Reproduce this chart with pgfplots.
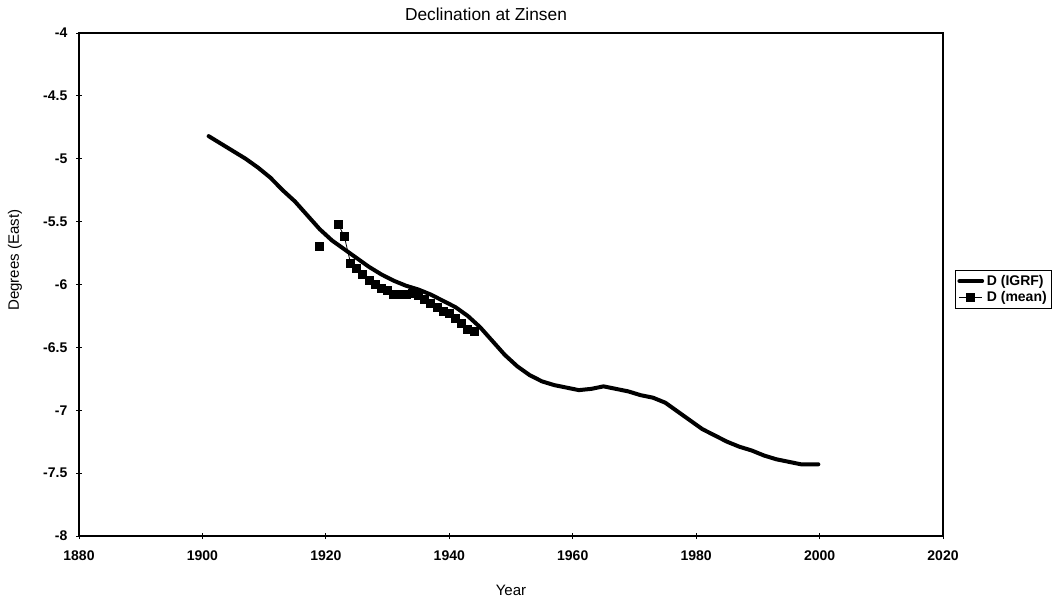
\documentclass[border=0pt]{standalone}
\usepackage{pgfplots}
\pgfplotsset{compat=1.18}
\usepackage{fontspec}
\setmainfont{Liberation Sans}
\begin{document}
\begin{tikzpicture}
\useasboundingbox (0,0) rectangle (796.5pt,450pt);
\begin{axis}[
  at={(59.25pt,48pt)}, anchor=south west,
  scale only axis, width=648pt, height=377.25pt,
  xmin=1880, xmax=2020, ymin=-8, ymax=-4,
  xtick={1880,1900,...,2020}, ytick={-8,-7.5,...,-4},
  xtick pos=bottom, ytick pos=left,
  tick align=center, major tick length=4.5pt,
  tick style={black, line width=0.6pt},
  axis line style={line width=0.8pt},
  /pgf/number format/assume math mode=true,
  /pgf/number format/.cd, fixed, 1000 sep={}, /pgfplots/.cd,
  tick label style={font=\fontsize{10.5}{12}\selectfont\bfseries},
  xticklabel style={yshift=-5pt},
  yticklabel style={xshift=-3pt},
  unbounded coords=jump,
  legend style={at={(1.0139,0.529)}, anchor=north west, draw=black, line width=0.6pt,
    font=\fontsize{10.5}{12}\selectfont\bfseries, inner sep=1.5pt, row sep=-1pt,
    /tikz/every even column/.append style={column sep=0pt}},
  legend cell align=left,
]
\addplot[black, line width=3pt, line join=round, line cap=round] coordinates {
(1901,-4.82) (1903,-4.88) (1905,-4.94) (1907,-5.00) (1909,-5.07) (1911,-5.15)
(1913,-5.25) (1915,-5.34) (1917,-5.45) (1919,-5.56) (1921,-5.65) (1923,-5.72)
(1925,-5.79) (1927,-5.86) (1929,-5.92) (1931,-5.97) (1933,-6.01) (1935,-6.04)
(1937,-6.08) (1939,-6.13) (1941,-6.18) (1943,-6.25) (1945,-6.34) (1947,-6.45)
(1949,-6.56) (1951,-6.65) (1953,-6.72) (1955,-6.77) (1957,-6.80) (1959,-6.82)
(1961,-6.84) (1963,-6.83) (1965,-6.81) (1967,-6.83) (1969,-6.85) (1971,-6.88)
(1973,-6.90) (1975,-6.94) (1977,-7.01) (1979,-7.08) (1981,-7.15) (1983,-7.20)
(1985,-7.25) (1987,-7.29) (1989,-7.32) (1991,-7.36) (1993,-7.39) (1995,-7.41)
(1997,-7.43) (1999.8,-7.43)
};
\addlegendentry{D (IGRF)}
\addplot[black, line width=0.6pt, mark=square*, mark size=3pt, mark options={solid}] coordinates {
(1919,-5.70) (1920,nan)
(1922,-5.52) (1923,-5.62) (1924,-5.83) (1925,-5.87) (1926,-5.92) (1927,-5.97)
(1928,-6.00) (1929,-6.03) (1930,-6.05) (1931,-6.08) (1932,-6.08) (1933,-6.08)
(1934,-6.07) (1935,-6.09) (1936,-6.12) (1937,-6.15) (1938,-6.18) (1939,-6.21)
(1940,-6.23) (1941,-6.27) (1942,-6.31) (1943,-6.36) (1944,-6.37)
};
\addlegendentry{D (mean)}
\end{axis}
\node[font=\fontsize{13}{15}\selectfont] at (364.5pt,439.5pt) {Declination at Zinsen};
\node[font=\fontsize{11.3}{13}\selectfont] at (383.25pt,7.5pt) {Year};
\node[font=\fontsize{11.3}{13}\selectfont, rotate=90] at (11.25pt,255pt) {Degrees (East)};
\end{tikzpicture}
\end{document}
